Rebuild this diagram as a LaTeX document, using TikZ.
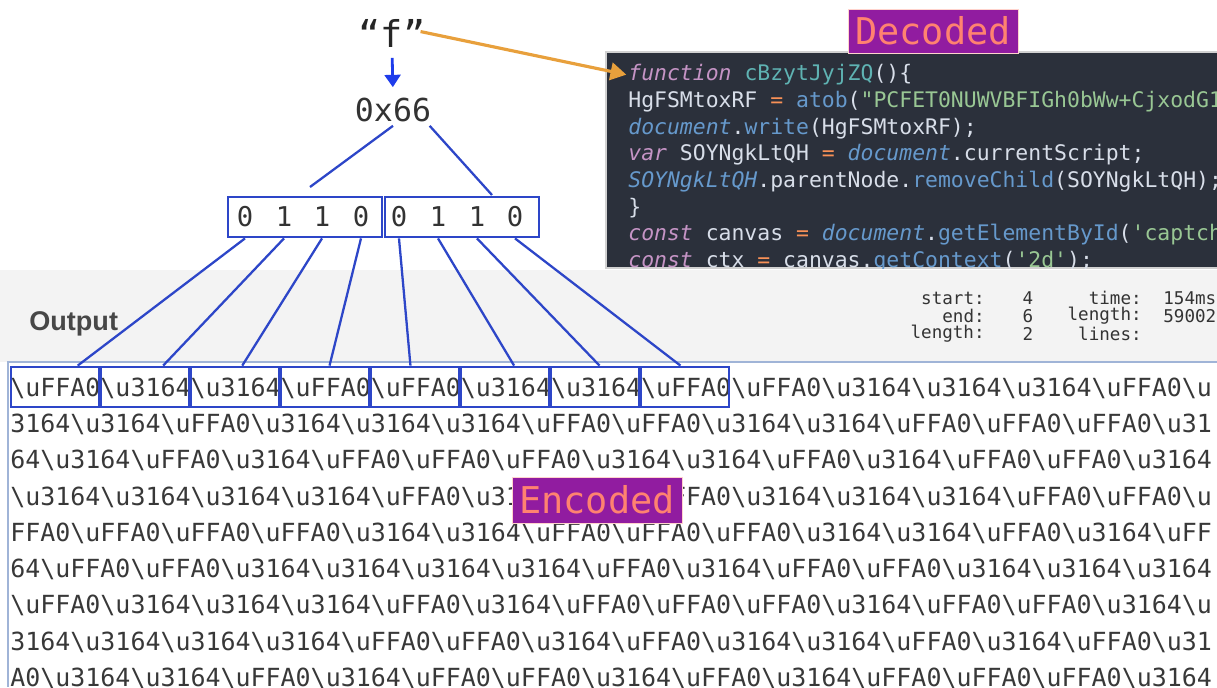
\documentclass[tikz,border=0pt]{standalone}
\usepackage{fontspec}
\setmainfont{Liberation Sans}
\newfontfamily\codefont{DejaVu Sans Mono}
\definecolor{diagBlue}{RGB}{45, 70, 200}
\definecolor{arrowBlue}{RGB}{30, 60, 235}
\definecolor{pointOrange}{RGB}{232, 160, 60}
\definecolor{tagPurple}{RGB}{145, 28, 160}
\definecolor{tagSalmon}{RGB}{255, 130, 112}
\definecolor{panelBg}{RGB}{43, 48, 59}
\definecolor{codeFg}{RGB}{216, 222, 233}
\definecolor{codePurple}{RGB}{197, 148, 197}
\definecolor{codeBlue}{RGB}{102, 153, 204}
\definecolor{codeCyan}{RGB}{95, 179, 179}
\definecolor{codeGreen}{RGB}{153, 199, 148}
\definecolor{codeOrange}{RGB}{249, 145, 87}
\definecolor{bandGray}{RGB}{243, 243, 243}
\definecolor{areaLine}{RGB}{160, 180, 215}
\usetikzlibrary{arrows.meta, positioning, calc}

\newcommand{\bsl}{\textbackslash}
\newcommand{\hwf}{\textbackslash uFFA0}
\newcommand{\hgf}{\textbackslash u3164}
\newcommand{\ckw}[1]{{\itshape\color{codePurple}#1}}
\newcommand{\cobj}[1]{{\itshape\color{codeBlue}#1}}
\newcommand{\cfn}[1]{{\color{codeBlue}#1}}
\newcommand{\cop}[1]{{\color{codeOrange}#1}}
\newcommand{\cstr}[1]{{\color{codeGreen}#1}}
\newcommand{\cnm}[1]{{\color{codeCyan}#1}}

\begin{document}
\begin{tikzpicture}[x=0.02cm, y=-0.02cm,
    codeline/.style={anchor=west, inner sep=0pt, text=codeFg,
                     font=\codefont\fontsize{12.2}{14}\selectfont},
    encrow/.style={anchor=west, inner sep=0pt, text=black!78,
                   font=\codefont\fontsize{14.2}{17}\selectfont},
    encbox/.style={draw=diagBlue, line width=1.6pt, minimum width=1.76cm,
                   minimum height=0.8cm, inner sep=0pt},
    bitbox/.style={draw=diagBlue, line width=1.6pt, minimum width=3.08cm,
                   minimum height=0.8cm, inner sep=0pt},
    bit/.style={inner sep=0pt, text=black!80, font=\codefont\fontsize{15.5}{18}\selectfont},
    tag/.style={fill=tagPurple, text=tagSalmon, draw=tagSalmon!35, line width=0.4pt,
                font=\codefont\fontsize{21}{24}\selectfont,
                minimum width=3.4cm, minimum height=0.88cm, inner sep=0pt},
    stat/.style={inner sep=0pt, text=black!80, font=\codefont\fontsize{10}{12}\selectfont},
    link/.style={diagBlue, line width=1.3pt}
  ]
    \useasboundingbox (0,0) rectangle (1217,687);
    \clip (0,0) rectangle (1217,687);

    % Output band and text area
    \fill[bandGray] (0,270) rectangle (1217,362);
    \draw[areaLine, line width=1pt] (1217,362) -- (8,362) -- (8,687);

    % Decoded code panel
    \fill[panelBg, draw=black!18, line width=1.5pt] (606,52) rectangle (1230,268);
    \begin{scope}
      \clip (606,52) rectangle (1217,268);
      \node[codeline] (code1) at (628,75) {\ckw{function} \cnm{cBzytJyjZQ}()\{};
      \node[codeline] (code2) at (628,101.7) {HgFSMtoxRF \cop{=} \cfn{atob}(\cstr{"PCFET0NUWVBFIGh0bWw+CjxodG1sPg=="});};
      \node[codeline] (code3) at (628,128.3) {\cobj{document}.\cfn{write}(HgFSMtoxRF);};
      \node[codeline] (code4) at (628,155) {\ckw{var} SOYNgkLtQH \cop{=} \cobj{document}.currentScript;};
      \node[codeline] (code5) at (628,181.7) {\cobj{SOYNgkLtQH}.parentNode.\cfn{removeChild}(SOYNgkLtQH);};
      \node[codeline] (code6) at (628,208.3) {\}};
      \node[codeline] (code7) at (628,235) {\ckw{const} canvas \cop{=} \cobj{document}.\cfn{getElementById}(\cstr{'captcha'});};
      \node[codeline] (code8) at (628,261.7) {\ckw{const} ctx \cop{=} canvas.\cfn{getContext}(\cstr{'2d'});};
    \end{scope}
    \node[tag] (decoded) at (933,31) {Decoded};

    % Character and its code
    \node[inner sep=1pt, text=black!85, font=\codefont\fontsize{21}{24}\selectfont] (fq) at (392,33) {“f”};
    \node[inner sep=2pt, text=black!80, font=\codefont\fontsize{18}{21}\selectfont] (hex) at (393,110) {0x66};
    \draw[-{Triangle[length=7pt, width=9pt]}, arrowBlue, line width=1.6pt,
          shorten <=5pt, shorten >=4pt] (fq.south) -- (hex.north);
    \draw[-{Triangle[length=9pt, width=10pt]}, pointOrange, line width=1.8pt,
          shorten <=-4pt, shorten >=1pt] (fq.east) -- (code1.west);

    % Bits
    \node[bitbox] (lbox) at (305,217) {};
    \node[bitbox] (rbox) at (462,217) {};
    \foreach \i/\x/\v in {1/245/0, 2/284/1, 3/322/1, 4/361/0, 5/399/0, 6/438/1, 7/477/1, 8/515/0}
      \node[bit] (b\i) at (\x,217) {\v};
    \coordinate (lsplit) at (310,187);
    \coordinate (rsplit) at (492,195);
    \draw[link] (hex.south) -- (lsplit);
    \draw[link] ([xshift=-3pt]hex.south east) -- (rsplit);

    % Encoded output
    \node[stat, anchor=east] (st1) at (985,298) {start:};
    \node[stat, anchor=east] (st2) at (985,316) {end:};
    \node[stat, anchor=east] (st3) at (985,334) {length:};
    \node[stat] (sv1) at (1028,298) {4};
    \node[stat] (sv2) at (1028,316) {6};
    \node[stat] (sv3) at (1028,334) {2};
    \node[stat, anchor=east] (tt1) at (1142,298) {time:};
    \node[stat, anchor=east] (tt2) at (1142,316) {length:};
    \node[stat, anchor=east] (tt3) at (1142,334) {lines:};
    \node[stat, anchor=west] (tv1) at (1163,298) {154ms};
    \node[stat, anchor=west] (tv2) at (1163,316) {59002};
    \node[anchor=west, inner sep=0pt, text=black!72,
          font=\bfseries\fontsize{15.4}{18}\selectfont] (outlbl) at (29,324) {Output};

    \node[encrow] (r1) at (10,388) {\hwf\hgf\hgf\hwf\hwf\hgf\hgf\hwf\hwf\hgf\hgf\hgf\hwf\bsl u};
    \node[encrow] (r2) at (10,424.3) {3164\hgf\hwf\hgf\hgf\hgf\hwf\hwf\hgf\hgf\hwf\hwf\hwf\bsl u31};
    \node[encrow] (r3) at (10,460.6) {64\hgf\hwf\hgf\hwf\hwf\hwf\hgf\hgf\hwf\hgf\hwf\hwf\hgf};
    \node[encrow] (r4) at (10,496.9) {\hgf\hgf\hgf\hgf\hwf\hgf\hgf\hwf\hgf\hgf\hgf\hwf\hwf\bsl u};
    \node[encrow] (r5) at (10,533.2) {FFA0\hwf\hwf\hwf\hgf\hgf\hwf\hwf\hwf\hgf\hgf\hwf\hgf\bsl uFF};
    \node[encrow] (r6) at (10,569.5) {64\hwf\hwf\hgf\hgf\hgf\hgf\hwf\hgf\hwf\hwf\hgf\hgf\hgf};
    \node[encrow] (r7) at (10,605.8) {\hwf\hgf\hgf\hgf\hwf\hgf\hwf\hwf\hwf\hgf\hwf\hwf\hgf\bsl u};
    \node[encrow] (r8) at (10,642.1) {3164\hgf\hgf\hgf\hwf\hwf\hgf\hwf\hgf\hgf\hwf\hgf\hwf\bsl u31};
    \node[encrow] (r9) at (10,678.4) {A0\hgf\hgf\hwf\hgf\hwf\hwf\hgf\hwf\hgf\hwf\hwf\hwf\hgf};

    \foreach \i in {1,...,8}
      \node[encbox] (e\i) at ({55+90*(\i-1)},387) {};
    \foreach \i/\f in {1/0.75, 2/0.7, 3/0.58, 4/0.55, 5/0.45, 6/0.6, 7/0.55, 8/0.45}
      \draw[link] (b\i |- lbox.south) -- ($(e\i.north west)!\f!(e\i.north east)$);

    \node[tag, minimum height=0.92cm] (encoded) at (597,500) {Encoded};
  \end{tikzpicture}
\end{document}
